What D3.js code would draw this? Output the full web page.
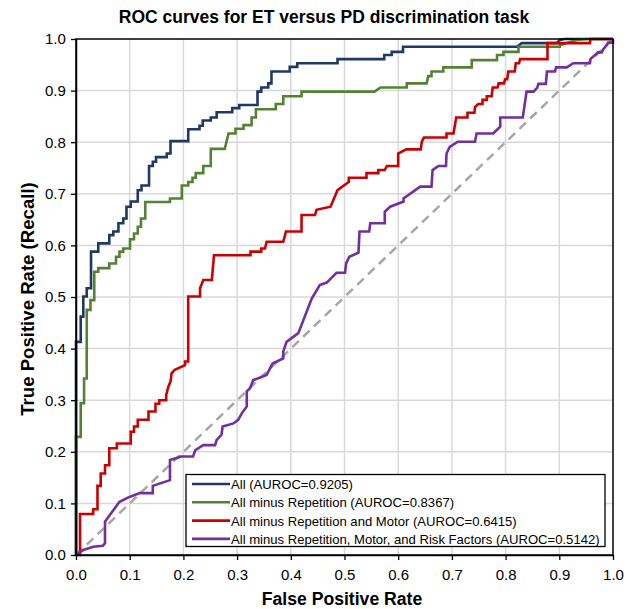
<!DOCTYPE html>
<html><head><meta charset="utf-8">
<script src="https://cdn.jsdelivr.net/npm/d3@7"></script>
<style>
body{margin:0;background:#fff;}
text{font-family:"Liberation Sans",Arial,sans-serif;}
</style></head><body>
<svg id="c" width="634" height="609"></svg>
<script>
const xTicks = [0,0.1,0.2,0.3,0.4,0.5,0.6,0.7,0.8,0.9,1.0];
const yTicks = [0,0.1,0.2,0.3,0.4,0.5,0.6,0.7,0.8,0.9,1.0];
const seriesNames = ["All (AUROC=0.9205)","All minus Repetition (AUROC=0.8367)","All minus Repetition and Motor (AUROC=0.6415)","All minus Repetition, Motor, and Risk Factors (AUROC=0.5142)"];
const seriesColors = ["#203864","#548235","#cc0000","#7030a0"];

const rocAll = [[0,0],[0,0.413],[0.0088,0.413],[0.0088,0.462],[0.0136,0.462],[0.0136,0.501],[0.020,0.501],[0.020,0.517],[0.028,0.517],[0.028,0.588],[0.0415,0.588],[0.0415,0.604],[0.062,0.604],[0.062,0.620],[0.0695,0.620],[0.0695,0.627],[0.079,0.627],[0.079,0.643],[0.088,0.643],[0.088,0.652],[0.094,0.652],[0.094,0.675],[0.102,0.675],[0.102,0.685],[0.115,0.685],[0.115,0.707],[0.122,0.707],[0.122,0.716],[0.136,0.716],[0.136,0.754],[0.143,0.754],[0.143,0.762],[0.149,0.762],[0.149,0.771],[0.169,0.771],[0.169,0.778],[0.176,0.778],[0.176,0.802],[0.209,0.802],[0.209,0.825],[0.230,0.825],[0.230,0.832],[0.236,0.832],[0.236,0.842],[0.251,0.842],[0.251,0.848],[0.262,0.848],[0.262,0.858],[0.291,0.858],[0.291,0.866],[0.304,0.866],[0.304,0.872],[0.338,0.872],[0.338,0.898],[0.345,0.898],[0.345,0.906],[0.358,0.906],[0.358,0.914],[0.364,0.914],[0.364,0.937],[0.398,0.937],[0.398,0.946],[0.412,0.946],[0.412,0.953],[0.487,0.953],[0.487,0.961],[0.574,0.961],[0.574,0.969],[0.588,0.969],[0.588,0.975],[0.609,0.975],[0.609,0.985],[0.821,0.985],[0.830,0.992],[0.895,0.992],[0.901,0.998],[0.91,1.0],[1.0,1.0]];

const rocMinusRep = [[0,0],[0,0.229],[0.0088,0.229],[0.0088,0.294],[0.015,0.294],[0.015,0.342],[0.020,0.342],[0.020,0.475],[0.027,0.475],[0.027,0.494],[0.034,0.494],[0.034,0.549],[0.0415,0.549],[0.0415,0.556],[0.062,0.556],[0.062,0.565],[0.0745,0.565],[0.0745,0.578],[0.081,0.578],[0.081,0.588],[0.088,0.588],[0.088,0.594],[0.1006,0.594],[0.1006,0.612],[0.108,0.612],[0.108,0.623],[0.115,0.623],[0.115,0.636],[0.121,0.636],[0.121,0.652],[0.129,0.652],[0.129,0.684],[0.175,0.684],[0.175,0.691],[0.197,0.691],[0.197,0.716],[0.209,0.716],[0.209,0.723],[0.217,0.723],[0.217,0.731],[0.223,0.731],[0.223,0.740],[0.237,0.740],[0.237,0.754],[0.251,0.754],[0.251,0.787],[0.277,0.787],[0.284,0.817],[0.297,0.817],[0.297,0.826],[0.312,0.826],[0.312,0.833],[0.327,0.833],[0.327,0.848],[0.335,0.848],[0.335,0.864],[0.372,0.864],[0.372,0.874],[0.386,0.874],[0.386,0.889],[0.420,0.889],[0.420,0.898],[0.434,0.898],[0.556,0.898],[0.567,0.906],[0.616,0.906],[0.616,0.914],[0.653,0.914],[0.656,0.928],[0.662,0.928],[0.662,0.937],[0.684,0.937],[0.684,0.945],[0.737,0.945],[0.737,0.959],[0.784,0.959],[0.784,0.969],[0.796,0.969],[0.796,0.975],[0.824,0.975],[0.824,0.985],[0.901,0.985],[0.901,0.988],[0.932,0.998],[0.95,1.0],[1.0,1.0]];

const rocMinusRepMotor = [[0.001,0],[0.0075,0],[0.0075,0.0795],[0.032,0.0795],[0.032,0.0886],[0.040,0.0886],[0.040,0.134],[0.046,0.134],[0.046,0.158],[0.054,0.158],[0.054,0.174],[0.062,0.174],[0.062,0.207],[0.076,0.207],[0.076,0.216],[0.102,0.216],[0.102,0.239],[0.108,0.239],[0.108,0.249],[0.115,0.249],[0.115,0.262],[0.135,0.262],[0.135,0.278],[0.148,0.278],[0.148,0.293],[0.155,0.293],[0.155,0.300],[0.168,0.300],[0.168,0.310],[0.172,0.326],[0.176,0.336],[0.178,0.352],[0.184,0.359],[0.203,0.368],[0.203,0.375],[0.209,0.375],[0.209,0.501],[0.231,0.501],[0.231,0.517],[0.237,0.533],[0.253,0.533],[0.257,0.581],[0.325,0.581],[0.325,0.588],[0.345,0.588],[0.345,0.594],[0.352,0.594],[0.355,0.607],[0.386,0.607],[0.391,0.627],[0.420,0.627],[0.420,0.659],[0.445,0.659],[0.448,0.669],[0.474,0.675],[0.487,0.707],[0.508,0.723],[0.508,0.731],[0.541,0.731],[0.541,0.740],[0.563,0.740],[0.563,0.746],[0.575,0.746],[0.579,0.754],[0.600,0.754],[0.600,0.778],[0.615,0.786],[0.642,0.786],[0.644,0.801],[0.648,0.809],[0.690,0.809],[0.690,0.817],[0.703,0.817],[0.708,0.848],[0.729,0.848],[0.729,0.857],[0.742,0.857],[0.743,0.868],[0.749,0.874],[0.757,0.874],[0.757,0.882],[0.765,0.882],[0.765,0.889],[0.774,0.889],[0.776,0.906],[0.785,0.906],[0.787,0.914],[0.797,0.914],[0.799,0.922],[0.803,0.922],[0.805,0.937],[0.817,0.937],[0.819,0.953],[0.825,0.953],[0.827,0.961],[0.878,0.961],[0.878,0.992],[0.957,0.992],[0.958,1.0],[1.0,1.0]];

const rocMinusRepMotorRisk = [[0.001,0],[0.0136,0.0097],[0.032,0.016],[0.050,0.018],[0.054,0.0227],[0.054,0.0645],[0.063,0.0775],[0.081,0.103],[0.1006,0.113],[0.119,0.120],[0.143,0.120],[0.143,0.134],[0.175,0.145],[0.175,0.184],[0.1905,0.189],[0.195,0.191],[0.218,0.191],[0.222,0.203],[0.237,0.213],[0.259,0.213],[0.262,0.223],[0.271,0.233],[0.273,0.249],[0.293,0.255],[0.302,0.262],[0.309,0.275],[0.318,0.288],[0.318,0.317],[0.324,0.323],[0.330,0.339],[0.355,0.349],[0.366,0.371],[0.386,0.381],[0.386,0.394],[0.392,0.413],[0.414,0.430],[0.439,0.497],[0.454,0.523],[0.467,0.528],[0.485,0.547],[0.501,0.547],[0.503,0.565],[0.509,0.578],[0.526,0.586],[0.528,0.627],[0.546,0.627],[0.548,0.643],[0.575,0.643],[0.575,0.665],[0.585,0.675],[0.610,0.685],[0.610,0.691],[0.641,0.714],[0.662,0.714],[0.664,0.746],[0.675,0.754],[0.689,0.754],[0.690,0.778],[0.696,0.791],[0.711,0.801],[0.743,0.801],[0.746,0.817],[0.777,0.817],[0.790,0.830],[0.790,0.848],[0.832,0.848],[0.839,0.898],[0.852,0.898],[0.859,0.906],[0.861,0.913],[0.875,0.913],[0.877,0.937],[0.892,0.937],[0.894,0.945],[0.914,0.945],[0.926,0.953],[0.957,0.953],[0.958,0.961],[0.972,0.974],[0.979,0.974],[0.982,0.980],[0.988,0.988],[0.991,0.993],[1.0,0.993],[1.0,1.0]];

const rocSeries = [rocAll, rocMinusRep, rocMinusRepMotor, rocMinusRepMotorRisk];

const svg = d3.select("#c");
const L=76, R=613, T=39, B=555;
const x = d3.scaleLinear().domain([0,1]).range([L,R]);
const y = d3.scaleLinear().domain([0,1]).range([B,T]);

// grid
svg.append("g").selectAll("line").data(xTicks.slice(1,-1)).join("line")
  .attr("x1",d=>x(d)).attr("x2",d=>x(d)).attr("y1",T).attr("y2",B)
  .attr("stroke","#d9d9d9").attr("stroke-width",1.5);
svg.append("g").selectAll("line").data(yTicks.slice(1,-1)).join("line")
  .attr("y1",d=>y(d)).attr("y2",d=>y(d)).attr("x1",L).attr("x2",R)
  .attr("stroke","#d9d9d9").attr("stroke-width",1.5);

// diagonal
svg.append("line").attr("x1",x(0)).attr("y1",y(0)).attr("x2",x(1)).attr("y2",y(1))
  .attr("stroke","#a6a6a6").attr("stroke-width",2.5).attr("stroke-dasharray","9,6");

// curves
const line = d3.line().x(d=>x(d[0])).y(d=>y(d[1]));
svg.append("g").selectAll("path").data(rocSeries).join("path")
  .attr("d",line).attr("fill","none")
  .attr("stroke",(d,i)=>seriesColors[i]).attr("stroke-width",2.6)
  .attr("stroke-linejoin","miter");

// border
svg.append("rect").attr("x",L).attr("y",T).attr("width",R-L).attr("height",B-T)
  .attr("fill","none").attr("stroke","#000").attr("stroke-width",1.5);

// axes
const xAxis = svg.append("g").attr("transform",`translate(0,${B})`)
  .call(d3.axisBottom(x).tickValues(xTicks).tickFormat(d3.format(".1f")).tickSize(5).tickSizeOuter(0));
const yAxis = svg.append("g").attr("transform",`translate(${L},0)`)
  .call(d3.axisLeft(y).tickValues(yTicks).tickFormat(d3.format(".1f")).tickSize(5).tickSizeOuter(0));
[xAxis,yAxis].forEach(a=>{
  a.select(".domain").attr("stroke","#000").attr("stroke-width",1.5);
  a.selectAll(".tick line").attr("stroke","#000").attr("stroke-width",1.3);
  a.selectAll(".tick text").attr("font-size",15).attr("fill","#000")
   .attr("font-family","'Liberation Sans',Arial,sans-serif");
});
xAxis.selectAll(".tick text").attr("dy","1.1em");
yAxis.selectAll(".tick text").attr("dx","-0.15em");

// legend
const lg = svg.append("g");
lg.append("rect").attr("x",186).attr("y",474.5).attr("width",419).attr("height",72)
  .attr("fill","#fff").attr("stroke","#000").attr("stroke-width",1.3);
const rows = lg.selectAll("g.r").data(seriesNames).join("g").attr("class","r")
  .attr("transform",(d,i)=>`translate(0,${484+i*18.3})`);
rows.append("line").attr("x1",192).attr("x2",230).attr("y1",0).attr("y2",0)
  .attr("stroke",(d,i)=>seriesColors[i]).attr("stroke-width",2.6);
rows.append("text").attr("x",231).attr("y",5).attr("font-size",13.1).attr("fill","#000").text(d=>d);

// titles
svg.append("text").attr("x",324).attr("y",23).attr("text-anchor","middle")
  .attr("font-size",17.5).attr("font-weight","bold").text("ROC curves for ET versus PD discrimination task");
svg.append("text").attr("x",342).attr("y",604.5).attr("text-anchor","middle")
  .attr("font-size",17.6).attr("font-weight","bold").text("False Positive Rate");
svg.append("text").attr("transform","translate(33.5,299) rotate(-90)").attr("text-anchor","middle")
  .attr("font-size",18.6).attr("font-weight","bold").text("True Positive Rate (Recall)");
</script></body></html>
